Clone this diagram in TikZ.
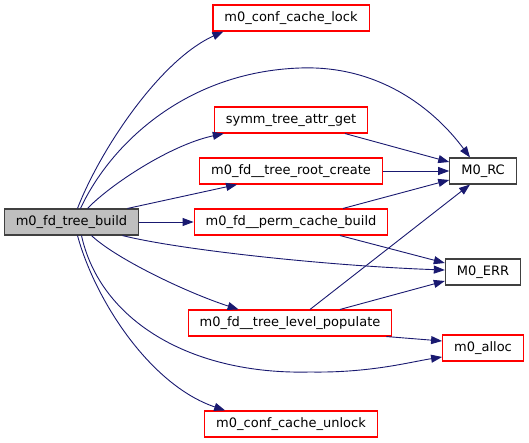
\documentclass[tikz,border=0pt]{standalone}
\usepackage{fontspec}
\setmainfont{DejaVu Sans}
\usetikzlibrary{arrows.meta}

\definecolor{edgeblue}{HTML}{191970}
\definecolor{nodegray}{HTML}{BFBFBF}
\definecolor{darkline}{HTML}{404040}

\begin{document}
\begin{tikzpicture}[x=1pt, y=-1pt,
      font=\fontsize{13}{15}\selectfont,
      box/.style={draw, line width=1.1pt, minimum height=26pt, inner xsep=11.5pt, inner ysep=0pt, text height=9.5pt, text depth=3pt},
      fn/.style={box, draw=red},
      ext/.style={box, draw=darkline},
      root/.style={box, draw=darkline, fill=nodegray},
      arr/.style={draw=edgeblue, line width=0.9pt, -{Triangle[length=11pt, width=8pt]}, edgeblue}]
    \useasboundingbox (0,0) rectangle (529,443);
    % caller
    \node[root] (b) at (71.5,222) {m0\_fd\_tree\_build};
    % callees, middle column
    \node[fn] (lock) at (291,18) {m0\_conf\_cache\_lock};
    \node[fn] (symm) at (291,120) {symm\_tree\_attr\_get};
    \node[fn] (rcreate) at (291,171) {m0\_fd\_\_tree\_root\_create};
    \node[fn] (perm) at (291,222) {m0\_fd\_\_perm\_cache\_build};
    \node[fn] (level) at (290,323) {m0\_fd\_\_tree\_level\_populate};
    \node[fn] (unlock) at (291,424) {m0\_conf\_cache\_unlock};
    % right column
    \node[ext] (rc) at (483,171) {M0\_RC};
    \node[ext] (err) at (483,272) {M0\_ERR};
    \node[fn] (alloc) at (483,348) {m0\_alloc};
    % edges from the caller
    \draw[arr] ([xshift=6pt]b.north) .. controls (100,150) and (160,60) .. ([xshift=11pt]lock.south west);
    \draw[arr] ([xshift=9pt]b.north) .. controls (110,145) and (185,72) .. (300,68)
      .. controls (380,65) and (435,110) .. ([xshift=-13pt]rc.north);
    \draw[arr] ([xshift=16pt]b.north) .. controls (110,185) and (170,145) .. ([xshift=10pt]symm.south west);
    \draw[arr] ([xshift=56pt]b.north) -- ([xshift=38pt]rcreate.south west);
    \draw[arr] (b.east) -- (perm.west);
    \draw[arr] ([xshift=51pt]b.south) .. controls (180,250) and (330,266) .. ([yshift=2pt]err.west);
    \draw[arr] ([xshift=20pt]b.south) .. controls (115,258) and (185,292) .. ([xshift=51pt]level.north west);
    \draw[arr] ([xshift=10pt]b.south) .. controls (100,320) and (190,375) .. (310,372)
      .. controls (370,373) and (410,362) .. ([yshift=-9pt]alloc.west);
    \draw[arr] ([xshift=6pt]b.south) .. controls (95,300) and (150,385) .. ([xshift=21pt]unlock.north west);
    % edges between callees
    \draw[arr] ([xshift=54pt]symm.south) -- ([yshift=9pt]rc.west);
    \draw[arr] (rcreate.east) -- (rc.west);
    \draw[arr] ([xshift=52pt]perm.north) -- ([yshift=-9pt]rc.west);
    \draw[arr] ([xshift=49pt]perm.south) -- ([yshift=9pt]err.west);
    \draw[arr] ([xshift=20pt]level.north) -- ([xshift=-13pt]rc.south);
    \draw[arr] ([xshift=50pt]level.north) -- ([yshift=-9pt]err.west);
    \draw[arr] ([xshift=-6pt]level.south east) -- ([yshift=7pt]alloc.west);
  \end{tikzpicture}
\end{document}
